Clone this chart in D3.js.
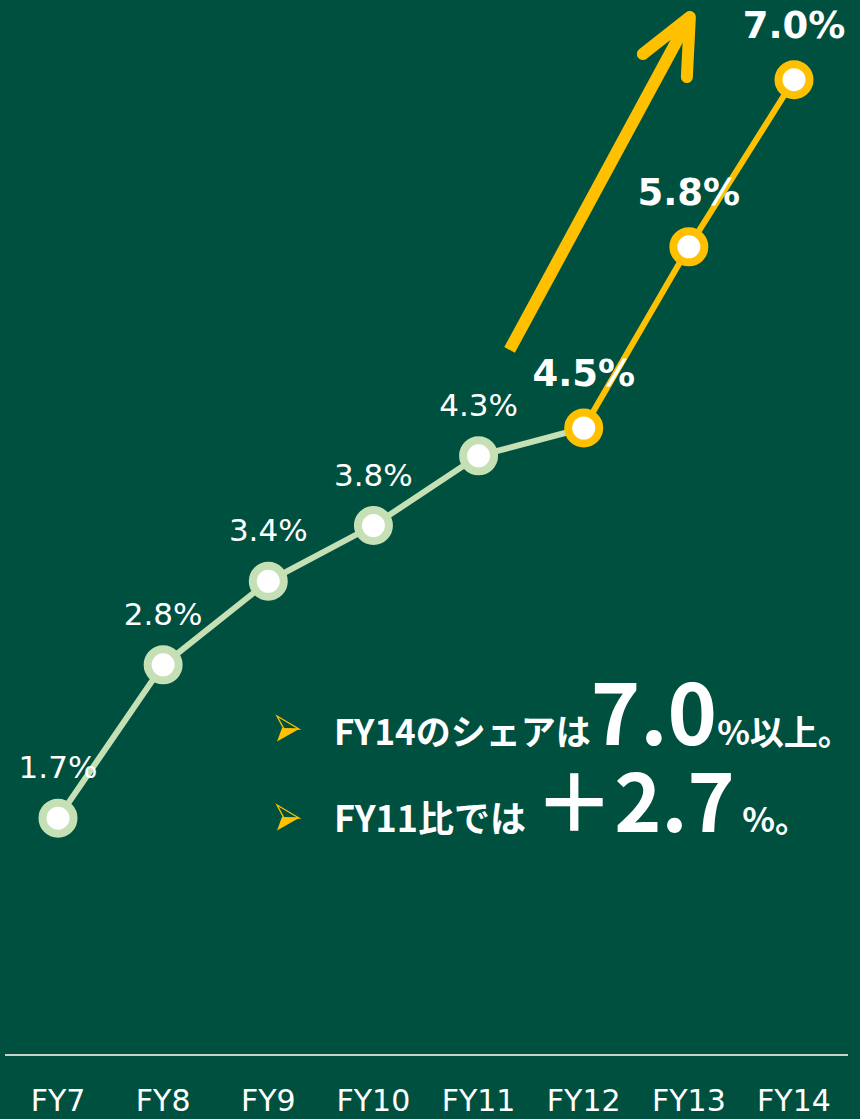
<!DOCTYPE html>
<html lang="ja">
<head>
<meta charset="UTF-8">
<title>Share FY7-FY14</title>
<style>
    html, body { margin: 0; padding: 0; background: #005040; }
    svg { display: block; }
    .tick-label { font-family: "DejaVu Sans", Verdana, sans-serif; font-size: 30px; fill: #ffffff; }
    .val { font-family: "DejaVu Sans", Verdana, sans-serif; fill: #ffffff; text-anchor: middle; }
    .note { font-family: "Noto Sans CJK JP", sans-serif; font-weight: bold; fill: #ffffff; }
</style>
</head>
<body>
<svg id="chart" width="860" height="1119"></svg>
<script src="https://d3js.org/d3.v7.min.js"></script>
<script>
    // data
    const years = ["FY7", "FY8", "FY9", "FY10", "FY11", "FY12", "FY13", "FY14"];
    const shares = [1.7, 2.8, 3.4, 3.8, 4.3, 4.5, 5.8, 7.0];
    const highlightFrom = "FY12";   // from here the line and labels turn yellow / bold

    const green = "#c5e0b4";
    const yellow = "#ffc000";

    const svg = d3.select("#chart");
    svg.append("rect").attr("width", 860).attr("height", 1119).attr("fill", "#005040");

    const x = d3.scalePoint().domain(years).range([58, 794]);
    const y = d3.scaleLinear().domain([0, 7.5]).range([1055, 10]);

    const data = years.map((yr, i) => ({ year: yr, value: shares[i] }));
    const hi = years.indexOf(highlightFrom);
    const past = data.slice(0, hi + 1);
    const future = data.slice(hi);

    // baseline
    svg.append("line")
        .attr("x1", 5).attr("x2", 848)
        .attr("y1", y(0)).attr("y2", y(0))
        .attr("stroke", "#c9d3ce").attr("stroke-width", 2);

    // category labels
    const xAxis = svg.append("g");
    xAxis.selectAll("text")
        .data(years)
        .join("text")
        .attr("class", "tick-label")
        .attr("x", d => x(d))
        .attr("y", 1111)
        .attr("text-anchor", "middle")
        .text(d => d);

    // growth arrow
    const start = [x("FY11") + 31, y(5.06)];
    const tip = [x("FY13") + 1, y(7.45)];
    svg.append("path")
        .attr("d", `M${start[0]},${start[1]} L${tip[0]},${tip[1]}`)
        .attr("stroke", yellow).attr("stroke-width", 12).attr("fill", "none");
    svg.append("path")
        .attr("d", `M${tip[0] - 47},${tip[1] + 37} L${tip[0]},${tip[1]} L${tip[0] - 3},${tip[1] + 60}`)
        .attr("stroke", yellow).attr("stroke-width", 12).attr("fill", "none")
        .attr("stroke-linecap", "round").attr("stroke-linejoin", "round");

    const line = d3.line().x(d => x(d.year)).y(d => y(d.value));

    svg.append("path").datum(past)
        .attr("d", line).attr("fill", "none")
        .attr("stroke", green).attr("stroke-width", 6);
    svg.append("path").datum(future)
        .attr("d", line).attr("fill", "none")
        .attr("stroke", yellow).attr("stroke-width", 6);

    // markers
    svg.append("g").selectAll("circle")
        .data(data)
        .join("circle")
        .attr("cx", d => x(d.year))
        .attr("cy", d => y(d.value))
        .attr("r", 15.5)
        .attr("fill", "#ffffff")
        .attr("stroke", (d, i) => i >= hi ? yellow : green)
        .attr("stroke-width", 8);

    // value labels
    svg.append("g").selectAll("text")
        .data(data)
        .join("text")
        .attr("class", "val")
        .attr("x", d => x(d.year))
        .attr("y", (d, i) => y(d.value) - (i >= hi ? 42 : 40))
        .style("font-size", (d, i) => i >= hi ? "37px" : "31px")
        .style("font-weight", (d, i) => i >= hi ? "bold" : "normal")
        .text(d => d.value.toFixed(1) + "%");

    // notes
    const notes = [
        [["FY14のシェアは", 35], ["7.0", 84], ["%以上。", 34]],
        [["FY11比では ", 36], ["＋2.7", 80], [" %。", 34]]
    ];
    const noteY = [745, 832];
    const bulletY = [729, 818];

    notes.forEach((parts, i) => {
        // 3D arrowhead bullet
        const b = svg.append("g").attr("transform", `translate(277,${bulletY[i]})`);
        b.append("path")
            .attr("d", "M0,-13 L22,0 L7,0 Z")
            .attr("fill", "none").attr("stroke", yellow).attr("stroke-width", 1.3)
            .attr("stroke-linejoin", "miter");
        b.append("path")
            .attr("d", "M5,-1 L22,0 L0,12.5 Z")
            .attr("fill", yellow);

        const t = svg.append("text").attr("class", "note")
            .attr("x", 334).attr("y", noteY[i]);
        parts.forEach(p => {
            t.append("tspan").style("font-size", p[1] + "px").text(p[0]);
        });
    });
</script>
</body>
</html>
